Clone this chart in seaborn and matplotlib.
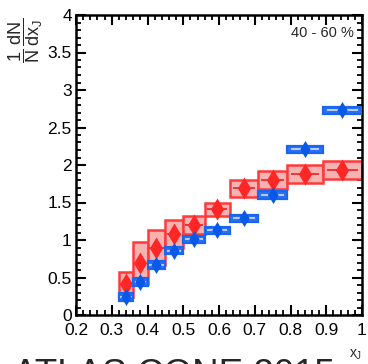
import numpy as np
import pandas as pd
import matplotlib
matplotlib.use("Agg")
import matplotlib.pyplot as plt
from matplotlib.patches import Rectangle
from matplotlib.ticker import MultipleLocator
import seaborn as sns

# x_J bin edges and the two distributions (value, systematic half-height, stat error)
bin_edges = [0.32, 0.36, 0.40, 0.45, 0.50, 0.56, 0.63, 0.71, 0.79, 0.89, 1.00]
red_vals = [0.41, 0.69, 0.90, 1.08, 1.20, 1.41, 1.69, 1.80, 1.88, 1.93]
red_sys = [0.17, 0.28, 0.23, 0.19, 0.12, 0.09, 0.11, 0.12, 0.12, 0.12]
red_stat = [0.04, 0.04, 0.04, 0.04, 0.04, 0.04, 0.04, 0.04, 0.04, 0.04]
blue_vals = [0.24, 0.44, 0.67, 0.86, 1.01, 1.13, 1.29, 1.60, 2.21, 2.73]
blue_sys = [0.05, 0.05, 0.05, 0.05, 0.05, 0.05, 0.05, 0.05, 0.05, 0.05]
blue_stat = [0.08, 0.08, 0.08, 0.08, 0.08, 0.08, 0.08, 0.08, 0.08, 0.08]

x_ticks = [0.2, 0.3, 0.4, 0.5, 0.6, 0.7, 0.8, 0.9, 1.0]
x_tick_labels = ["0.2", "0.3", "0.4", "0.5", "0.6", "0.7", "0.8", "0.9", "1"]
y_ticks = [0, 0.5, 1, 1.5, 2, 2.5, 3, 3.5, 4]
y_tick_labels = ["0", "0.5", "1", "1.5", "2", "2.5", "3", "3.5", "4"]
centrality_label = "40 - 60 %"
banner = "ATLAS CONE 2015"

sns.set_style("ticks")
plt.rcParams["font.family"] = ["Liberation Sans", "DejaVu Sans"]
plt.rcParams["mathtext.fontset"] = "custom"
plt.rcParams["mathtext.rm"] = "Liberation Sans"
plt.rcParams["mathtext.it"] = "Liberation Sans"

W, H = 368, 364
fig = plt.figure(figsize=(W / 100, H / 100), dpi=100)
ax = fig.add_axes([76 / W, 1 - 315 / H, 286 / W, 300 / H])

lo = np.array(bin_edges[:-1])
hi = np.array(bin_edges[1:])
mid = 0.5 * (lo + hi)

red_df = pd.DataFrame({"x": mid, "y": red_vals})
blue_df = pd.DataFrame({"x": mid, "y": blue_vals})

RED_EDGE = "#ff3a3a"
RED_FILL = "#f9b2b2"
RED_LINE = "#e8383c"
BLUE_EDGE = "#1a66f0"
BLUE_FILL = "#2a72f2"
BLUE_LINE = "#b9cdf6"


def draw_boxes(vals, sys, fill, edge, line, z, lw):
    for l, h, v, s in zip(lo, hi, vals, sys):
        ax.add_patch(Rectangle((l, v - s), h - l, 2 * s, facecolor=fill,
                               edgecolor=edge, lw=lw, zorder=z))
        w = h - l
        c = 0.5 * (l + h)
        gap = 0.012
        ax.plot([l + 0.1 * w, c - gap], [v, v], color=line, lw=1.4, zorder=z + 0.1,
                solid_capstyle="butt")
        ax.plot([c + gap, h - 0.1 * w], [v, v], color=line, lw=1.4, zorder=z + 0.1,
                solid_capstyle="butt")


draw_boxes(red_vals, red_sys, RED_FILL, RED_EDGE, RED_LINE, 2, 1.8)
draw_boxes(blue_vals, blue_sys, BLUE_FILL, BLUE_EDGE, BLUE_LINE, 5, 1.6)

# statistical error bars
ax.errorbar(mid, red_vals, yerr=red_stat, fmt="none", ecolor="#ff2a2a",
            elinewidth=1.5, zorder=3)
ax.errorbar(mid, blue_vals, yerr=blue_stat, fmt="none", ecolor="#0a58e8",
            elinewidth=1.5, zorder=6)

sns.scatterplot(data=red_df, x="x", y="y", color="#ff2626", marker="d",
                s=125, linewidth=0, legend=False, ax=ax, zorder=4)
sns.scatterplot(data=blue_df, x="x", y="y", color="#0a58e8", marker="d",
                s=75, linewidth=0, legend=False, ax=ax, zorder=7)

ax.set_xlim(0.2, 1.0)
ax.set_ylim(0, 4)
ax.set_xticks(x_ticks)
ax.set_xticklabels(x_tick_labels)
ax.set_yticks(y_ticks)
ax.set_yticklabels(y_tick_labels)
ax.xaxis.set_minor_locator(MultipleLocator(0.02))
ax.yaxis.set_minor_locator(MultipleLocator(0.1))
ax.tick_params(which="both", direction="in", top=True, right=True,
               colors="black", labelsize=12.5)
ax.tick_params(which="major", length=7, width=1.5)
ax.tick_params(which="minor", length=3.5, width=1.3)
ax.tick_params(axis="x", pad=6)
ax.tick_params(axis="y", pad=3)
for sp in ax.spines.values():
    sp.set_linewidth(1.8)
    sp.set_color("black")
ax.set_xlabel("")
ax.set_ylabel("")

ax.text(0.97, 0.94, centrality_label, transform=ax.transAxes, ha="right",
        va="center", fontsize=10.5)

fig.text(26 / W, 1 - 40 / H, r"$\dfrac{1}{N}\,\dfrac{dN}{dx_{J}}$", rotation=90,
         ha="center", va="center", fontsize=13)
fig.text(13 / W, 1 - 385 / H, banner, ha="left", va="baseline", fontsize=26.5)
fig.text(349 / W, 1 - 358 / H, r"$x_{J}$", ha="left", va="baseline", fontsize=10)

fig.savefig("out.png", dpi=100)
